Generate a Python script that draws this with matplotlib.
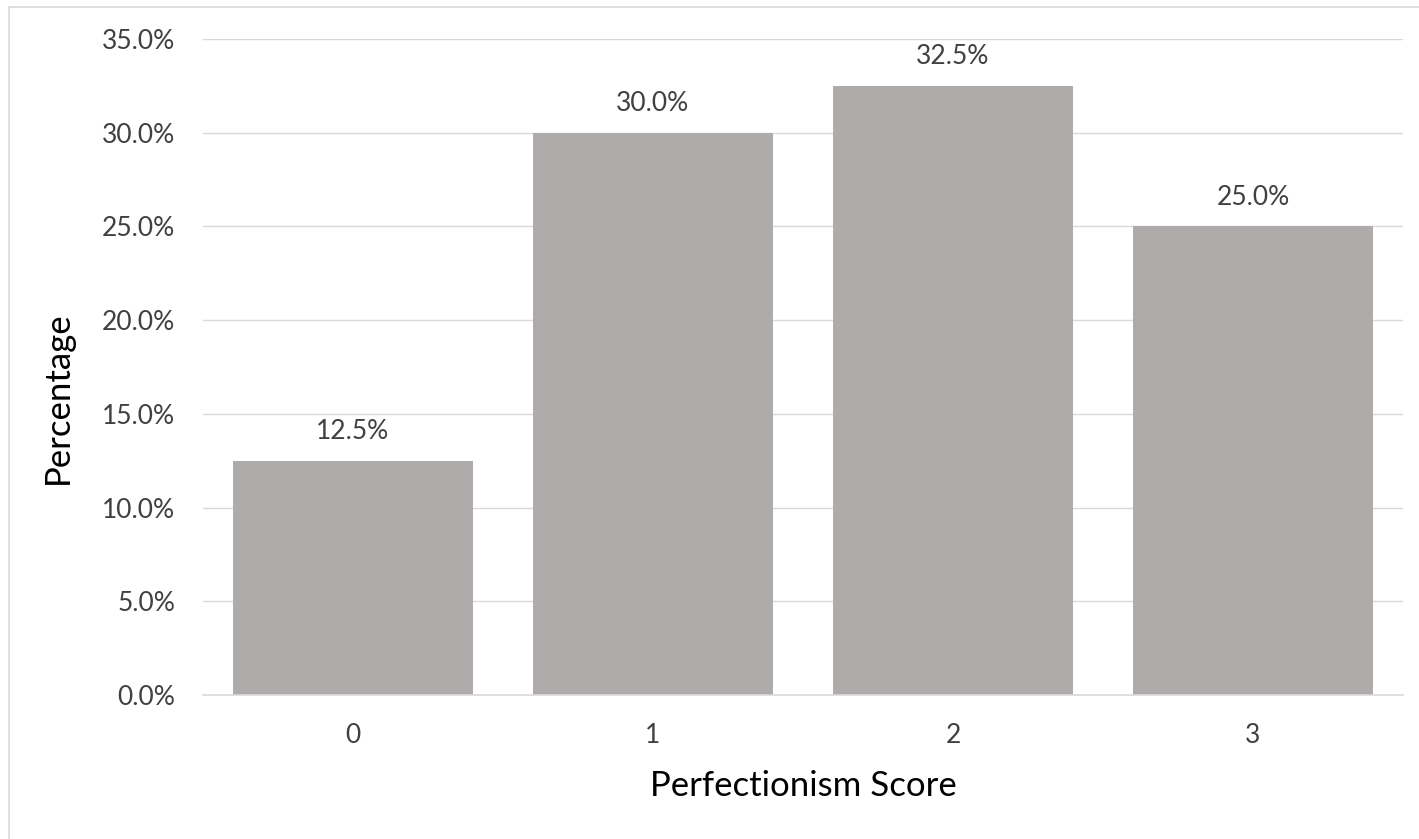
import numpy as np
import matplotlib.pyplot as plt
from matplotlib.ticker import PercentFormatter
from matplotlib.lines import Line2D

scores = ["0", "1", "2", "3"]
percent = [12.5, 30.0, 32.5, 25.0]
yticks = [0, 5, 10, 15, 20, 25, 30, 35]

plt.rcParams["font.family"] = ["Lato", "DejaVu Sans"]

fig = plt.figure(figsize=(14.19, 8.39), dpi=100)
ax = fig.add_axes([0.143, 0.1716, 0.8457, 0.7819])

x = np.arange(len(scores))
bars = ax.bar(x, percent, width=0.8, color="#AFABAB", zorder=2)
for b, v in zip(bars, percent):
    ax.annotate(f"{v:.1f}%", (b.get_x() + b.get_width() / 2, v),
                xytext=(0, 12), textcoords="offset points",
                ha="center", va="bottom", fontsize=19, color="#404040")

ax.set_xlim(-0.5, 3.5)
ax.set_ylim(0, 35)
ax.set_yticks(yticks)
ax.yaxis.set_major_formatter(PercentFormatter(decimals=1))
ax.set_xticks(x)
ax.set_xticklabels(scores)
ax.tick_params(length=0, labelsize=19, labelcolor="#404040")
ax.tick_params(axis="y", pad=20)
ax.tick_params(axis="x", pad=20)
ax.grid(axis="y", color="#D9D9D9", linewidth=1, zorder=0)
for s in ["top", "right", "left"]:
    ax.spines[s].set_visible(False)
ax.spines["bottom"].set_color("#D9D9D9")
ax.spines["bottom"].set_linewidth(1.2)

ax.set_xlabel("Perfectionism Score", fontsize=25, color="#000000", labelpad=16)
ax.set_ylabel("Percentage", fontsize=25, color="#000000", labelpad=20, y=0.454)

# outer chart frame
fig.add_artist(Line2D([0.0063, 0.0063], [0, 0.992], color="#D9D9D9", lw=1.2))
fig.add_artist(Line2D([0.0063, 1], [0.992, 0.992], color="#D9D9D9", lw=1.2))

fig.savefig("out.png", dpi=100)
